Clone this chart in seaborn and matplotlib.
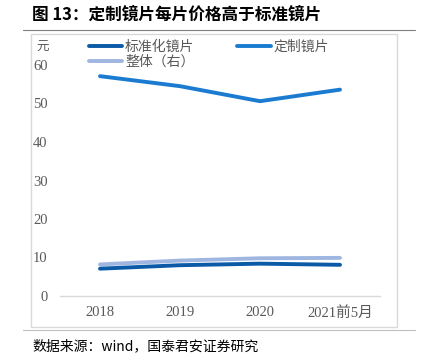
import numpy as np
import pandas as pd
import matplotlib
matplotlib.use("Agg")
import matplotlib.pyplot as plt
import seaborn as sns
from matplotlib.patches import Rectangle
from matplotlib.lines import Line2D

# -----------------------------------
# Data
# -----------------------------------

years = ["2018", "2019", "2020", "2021前5月"]
standard_price = [7.1, 8.0, 8.4, 8.1]
custom_price = [57.1, 54.5, 50.6, 53.6]
overall_price = [8.2, 9.2, 9.8, 9.9]

series_names = ["标准化镜片", "定制镜片", "整体（右）"]
series_colors = ["#0a5aa8", "#1a7bd0", "#9fb6e0"]

df = pd.DataFrame({
    "year": years * 3,
    "price": standard_price + custom_price + overall_price,
    "series": [series_names[0]] * 4 + [series_names[1]] * 4 + [series_names[2]] * 4,
})
df["x"] = list(range(4)) * 3

# -----------------------------------
# Style
# -----------------------------------

sns.set_style("white")
plt.rcParams["font.family"] = ["Liberation Serif", "Noto Sans CJK SC", "DejaVu Sans"]

fig = plt.figure(figsize=(4.28, 3.63), dpi=100)
W, H = 428, 363

def fx(px):
    return px / W

def fy(py):
    return 1 - py / H

ax = fig.add_axes([fx(60), fy(296), fx(380) - fx(60), fy(65) - fy(296)])

sns.lineplot(
    data=df,
    x="x",
    y="price",
    hue="series",
    hue_order=[series_names[2], series_names[0], series_names[1]],
    palette={n: c for n, c in zip(series_names, series_colors)},
    linewidth=2.8,
    legend=False,
    ax=ax,
)

ax.set_xlim(-0.5, 3.5)
ax.set_ylim(0, 60)
ax.set_yticks(range(0, 61, 10))
ax.set_xticks(range(4))
ax.set_xticklabels(years)
ax.set_xlabel("")
ax.set_ylabel("")
ax.tick_params(axis="both", length=0, labelsize=10.5, colors="#595959")
ax.tick_params(axis="x", pad=7)
ax.tick_params(axis="y", pad=9)

for side in ["top", "right", "left"]:
    ax.spines[side].set_visible(False)
ax.spines["bottom"].set_color("#d9d9d9")
ax.spines["bottom"].set_linewidth(1.0)
ax.set_facecolor("none")

fig.text(fx(36), fy(47), "元", fontsize=9, color="#595959",
         family=["Noto Sans CJK SC"], va="center")

# Legend
handles = [
    Line2D([], [], color=series_colors[0], lw=2.8),
    Line2D([], [], color=series_colors[2], lw=2.8),
    Line2D([], [], color=series_colors[1], lw=2.8),
]
labels = [series_names[0], series_names[2], series_names[1]]
fig.legend(
    handles, labels,
    loc="upper left",
    bbox_to_anchor=(fx(82), fy(33)),
    ncol=2,
    frameon=False,
    prop={"family": ["Noto Sans CJK SC"], "size": 10},
    labelcolor="#595959",
    handlelength=2.4,
    handletextpad=0.2,
    columnspacing=3.1,
    labelspacing=0.05,
    borderpad=0.0,
)

# Frame and rules
fig.patches.append(Rectangle((fx(31), fy(327)), fx(397) - fx(31), fy(34) - fy(327),
                             transform=fig.transFigure, fill=False,
                             edgecolor="#d9d9d9", linewidth=1.0))
fig.add_artist(Line2D([fx(23), fx(415)], [fy(30), fy(30)], color="#7f7f7f", lw=0.8))
fig.add_artist(Line2D([fx(23), fx(415)], [fy(330), fy(330)], color="#bfbfbf", lw=0.8))

fig.text(fx(32), fy(15), "图 13：定制镜片每片价格高于标准镜片", fontsize=12,
         fontweight="bold", va="center", color="black",
         family=["Noto Sans CJK SC"])
fig.text(fx(32), fy(346), "数据来源：wind，国泰君安证券研究", fontsize=10,
         va="center", color="black", family=["Noto Sans CJK SC"])

fig.savefig("out.png", dpi=100)
